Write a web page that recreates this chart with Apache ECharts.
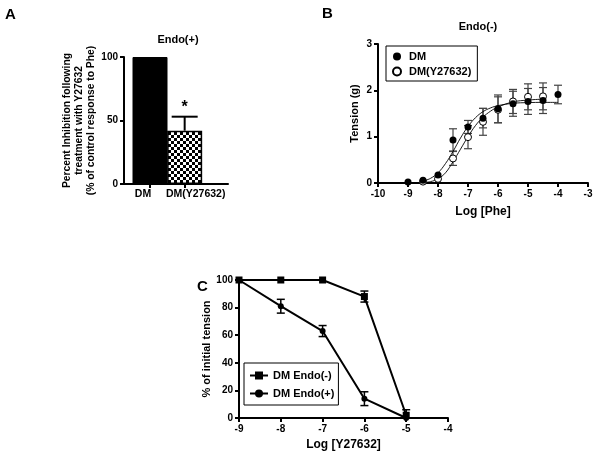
<!DOCTYPE html>
<html>
<head>
<meta charset="utf-8">
<script src="https://cdn.jsdelivr.net/npm/echarts@6/dist/echarts.min.js"></script>
<style>
html,body{margin:0;padding:0;background:#fff;}
#chart{width:600px;height:458px;}
</style>
</head>
<body>
<div id="chart"></div>
<script>
// ---------- Panel A data ----------
// half-width category slots: bars sit in slots 1 and 3
const A_categories = ['', 'DM', '', 'DM(Y27632)', '', ''];
const A_values = [null, 100, null, 42, null, null];
const A_errors = [0, 0, 0, 11, 0, 0];

// ---------- Panel B data ----------
const B_dmDoses = [-9, -8.5, -8, -7.5, -7, -6.5, -6, -5.5, -5, -4.5, -4];
const B_dm = [0.02, 0.06, 0.17, 0.93, 1.21, 1.40, 1.60, 1.71, 1.76, 1.78, 1.91];
const B_dmErr = [0, 0, 0, 0.24, 0.14, 0.21, 0.30, 0.27, 0.28, 0.28, 0.20];
const B_yDoses = [-8.5, -8, -7.5, -7, -6.5, -6, -5.5, -5, -4.5];
const B_y = [0.03, 0.09, 0.53, 0.99, 1.32, 1.58, 1.76, 1.86, 1.87];
const B_yErr = [0, 0, 0.15, 0.25, 0.29, 0.28, 0.26, 0.28, 0.29];
// fitted curves
const B_dmFitX = [-8.5, -8.25, -8, -7.75, -7.5, -7.25, -7, -6.75, -6.5, -6.25, -6, -5.5, -5, -4.5, -4];
const B_dmFitY = [0.04, 0.10, 0.22, 0.42, 0.68, 0.97, 1.22, 1.41, 1.54, 1.62, 1.67, 1.72, 1.735, 1.74, 1.74];
const B_yFitX = [-8.5, -8.25, -8, -7.75, -7.5, -7.25, -7, -6.75, -6.5, -6.25, -6, -5.5, -5, -4.5];
const B_yFitY = [0.01, 0.03, 0.09, 0.22, 0.46, 0.73, 1.0, 1.24, 1.42, 1.55, 1.64, 1.75, 1.79, 1.81];

// ---------- Panel C data ----------
const C_doses = [-9, -8, -7, -6, -5];
const C_endoMinus = [100, 100, 100, 88, 2];
const C_endoMinusErr = [0, 0, 0, 4, 4];
const C_endoPlus = [100, 81, 63, 14, 0];
const C_endoPlusErr = [0, 5, 4, 5, 0];

const FONT = '"Liberation Sans", Arial, sans-serif';

// checker pattern
const pat = document.createElement('canvas');
pat.width = 6; pat.height = 6;
const pctx = pat.getContext('2d');
pctx.fillStyle = '#fff'; pctx.fillRect(0, 0, 6, 6);
pctx.fillStyle = '#000'; pctx.fillRect(0, 0, 3, 3); pctx.fillRect(3, 3, 3, 3);

function zip(xs, ys) { return xs.map((x, i) => [x, ys[i]]); }
function zip3(xs, ys, es) { return xs.map((x, i) => [x, ys[i], es[i]]); }

function errRender(capHalf, color, lw) {
  return function (params, api) {
    const x = api.value(0), y = api.value(1), e = api.value(2);
    if (!e) return null;
    const t = api.coord([x, y + e]);
    const b = api.coord([x, y - e]);
    const st = { stroke: color, lineWidth: lw };
    return {
      type: 'group',
      children: [
        { type: 'line', shape: { x1: t[0], y1: t[1], x2: b[0], y2: b[1] }, style: st },
        { type: 'line', shape: { x1: t[0] - capHalf, y1: t[1], x2: t[0] + capHalf, y2: t[1] }, style: st },
        { type: 'line', shape: { x1: b[0] - capHalf, y1: b[1], x2: b[0] + capHalf, y2: b[1] }, style: st }
      ]
    };
  };
}

function axisCommon() {
  return {
    axisLine: { show: true, onZero: false, lineStyle: { color: '#000', width: 2 } },
    axisTick: { show: true, length: 4, lineStyle: { color: '#000', width: 2 } },
    axisLabel: { color: '#000', fontFamily: FONT, fontWeight: 'bold', fontSize: 10, margin: 6 },
    splitLine: { show: false },
    nameTextStyle: { color: '#000', fontFamily: FONT, fontWeight: 'bold', fontSize: 11 }
  };
}

const chart = echarts.init(document.getElementById('chart'), null, { renderer: 'canvas' });

const option = {
  animation: false,
  backgroundColor: '#fff',
  grid: [
    { left: 124, top: 57, width: 104, height: 127 },
    { left: 378, top: 44, width: 210, height: 139 },
    { left: 239, top: 280, width: 209, height: 138 }
  ],
  xAxis: [
    Object.assign(axisCommon(), {
      gridIndex: 0, type: 'category', data: A_categories, boundaryGap: true,
      axisTick: { show: true, alignWithLabel: true, length: 4, lineStyle: { color: '#000', width: 2 },
        interval: function (i) { return i === 1 || i === 3; } },
      axisLabel: {
        color: '#000', fontFamily: FONT, fontWeight: 'bold', fontSize: 10.5, margin: 5, interval: 0,
        formatter: function (v, i) {
          if (i === 1) return '{l|' + v + '}';
          if (i === 3) return '{r|' + v + '}';
          return '';
        },
        rich: {
          l: { fontFamily: FONT, fontWeight: 'bold', fontSize: 10.5, color: '#000', padding: [0, 14, 0, 0] },
          r: { fontFamily: FONT, fontWeight: 'bold', fontSize: 10.5, color: '#000', padding: [0, 0, 0, 22] }
        }
      }
    }),
    Object.assign(axisCommon(), {
      gridIndex: 1, type: 'value', min: -10, max: -3, interval: 1,
      name: 'Log [Phe]', nameLocation: 'middle', nameGap: 23,
      nameTextStyle: { color: '#000', fontFamily: FONT, fontWeight: 'bold', fontSize: 12 }
    }),
    Object.assign(axisCommon(), {
      gridIndex: 2, type: 'value', min: -9, max: -4, interval: 1,
      name: 'Log [Y27632]', nameLocation: 'middle', nameGap: 21,
      nameTextStyle: { color: '#000', fontFamily: FONT, fontWeight: 'bold', fontSize: 12 }
    })
  ],
  yAxis: [
    Object.assign(axisCommon(), {
      gridIndex: 0, type: 'value', min: 0, max: 100, interval: 50,
      name: 'Percent Inhibition following\ntreatment with Y27632\n(% of control response to Phe)',
      nameLocation: 'middle', nameRotate: 90, nameGap: 26,
      nameTextStyle: { color: '#000', fontFamily: FONT, fontWeight: 'bold', fontSize: 10.3, lineHeight: 12, align: 'center' }
    }),
    Object.assign(axisCommon(), {
      gridIndex: 1, type: 'value', min: 0, max: 3, interval: 1,
      name: 'Tension (g)', nameLocation: 'middle', nameRotate: 90, nameGap: 18
    }),
    Object.assign(axisCommon(), {
      gridIndex: 2, type: 'value', min: 0, max: 100, interval: 20,
      name: '% of initial tension', nameLocation: 'middle', nameRotate: 90, nameGap: 22
    })
  ],
  legend: [
    {
      data: ['DM', 'DM(Y27632)'], orient: 'vertical', left: 386, top: 46,
      padding: [5, 6, 4, 6], itemGap: 4, itemWidth: 14, itemHeight: 8,
      borderColor: '#000', borderWidth: 1, selectedMode: false,
      textStyle: { color: '#000', fontFamily: FONT, fontWeight: 'bold', fontSize: 11 }
    },
    {
      data: ['DM Endo(-)', 'DM Endo(+)'], orient: 'vertical', left: 244, top: 363,
      padding: [7, 4, 6, 5], itemGap: 7, itemWidth: 18, itemHeight: 10,
      borderColor: '#000', borderWidth: 1, selectedMode: false,
      textStyle: { color: '#000', fontFamily: FONT, fontWeight: 'bold', fontSize: 11 }
    }
  ],
  graphic: [
    { type: 'text', left: 5, top: 7, style: { text: 'A', font: 'bold 15px ' + FONT, fill: '#000' } },
    { type: 'text', left: 322, top: 6, style: { text: 'B', font: 'bold 15px ' + FONT, fill: '#000' } },
    { type: 'text', left: 197, top: 279, style: { text: 'C', font: 'bold 15px ' + FONT, fill: '#000' } },
    { type: 'text', x: 178, y: 40, style: { text: 'Endo(+)', font: 'bold 11px ' + FONT, fill: '#000', align: 'center', verticalAlign: 'middle' } },
    { type: 'text', x: 478, y: 27, style: { text: 'Endo(-)', font: 'bold 11px ' + FONT, fill: '#000', align: 'center', verticalAlign: 'middle' } }
  ],
  series: [
    // Panel A bars
    {
      type: 'bar', xAxisIndex: 0, yAxisIndex: 0, barWidth: 35,
      data: A_values.map(function (v, i) {
        if (v === null) return null;
        return i === 1
          ? { value: v, itemStyle: { color: '#000', borderColor: '#000', borderWidth: 1 } }
          : { value: v, itemStyle: { color: { image: pat, repeat: 'repeat' }, borderColor: '#000', borderWidth: 1.5 } };
      })
    },
    // Panel A error bar (upper only) + significance star
    {
      type: 'custom', xAxisIndex: 0, yAxisIndex: 0, z: 5,
      data: A_values.map((v, i) => [i, v === null ? 0 : v, A_errors[i]]),
      renderItem: function (params, api) {
        const i = api.value(0), v = api.value(1), e = api.value(2);
        if (!e) return null;
        const b = api.coord([i, v]);
        const t = api.coord([i, v + e]);
        const st = { stroke: '#000', lineWidth: 2 };
        return {
          type: 'group', children: [
            { type: 'line', shape: { x1: t[0], y1: t[1], x2: b[0], y2: b[1] }, style: st },
            { type: 'line', shape: { x1: t[0] - 13, y1: t[1], x2: t[0] + 13, y2: t[1] }, style: st },
            { type: 'text', style: { text: '*', x: t[0], y: t[1] - 1, font: 'bold 16px ' + FONT, fill: '#000', align: 'center', verticalAlign: 'bottom' } }
          ]
        };
      }
    },
    // Panel B error bars
    {
      type: 'custom', xAxisIndex: 1, yAxisIndex: 1, z: 1,
      data: zip3(B_dmDoses, B_dm, B_dmErr), renderItem: errRender(4, '#444', 1.2)
    },
    {
      type: 'custom', xAxisIndex: 1, yAxisIndex: 1, z: 1,
      data: zip3(B_yDoses, B_y, B_yErr), renderItem: errRender(4, '#444', 1.2)
    },
    // Panel B fitted curves
    {
      type: 'line', xAxisIndex: 1, yAxisIndex: 1, smooth: 0.4, showSymbol: false, symbol: 'none',
      lineStyle: { color: '#000', width: 0.9 }, data: zip(B_dmFitX, B_dmFitY), z: 2, silent: true
    },
    {
      type: 'line', xAxisIndex: 1, yAxisIndex: 1, smooth: 0.4, showSymbol: false, symbol: 'none',
      lineStyle: { color: '#000', width: 0.9 }, data: zip(B_yFitX, B_yFitY), z: 2, silent: true
    },
    // Panel B points
    {
      name: 'DM(Y27632)', type: 'scatter', xAxisIndex: 1, yAxisIndex: 1, symbol: 'circle', symbolSize: 7, z: 3,
      itemStyle: { color: '#fff', borderColor: '#000', borderWidth: 1, opacity: 1 },
      data: zip(B_yDoses, B_y)
    },
    {
      name: 'DM', type: 'scatter', xAxisIndex: 1, yAxisIndex: 1, symbol: 'circle', symbolSize: 7, z: 4,
      itemStyle: { color: '#000', opacity: 1 },
      data: zip(B_dmDoses, B_dm)
    },
    // Panel C error bars
    {
      type: 'custom', xAxisIndex: 2, yAxisIndex: 2, z: 3, clip: true,
      data: zip3(C_doses, C_endoMinus, C_endoMinusErr), renderItem: errRender(4, '#000', 1.5)
    },
    {
      type: 'custom', xAxisIndex: 2, yAxisIndex: 2, z: 3, clip: true,
      data: zip3(C_doses, C_endoPlus, C_endoPlusErr), renderItem: errRender(4, '#000', 1.5)
    },
    // Panel C lines
    {
      name: 'DM Endo(-)', type: 'line', xAxisIndex: 2, yAxisIndex: 2, symbol: 'rect', symbolSize: 7,
      lineStyle: { color: '#000', width: 2 }, itemStyle: { color: '#000' },
      data: zip(C_doses, C_endoMinus), z: 4
    },
    {
      name: 'DM Endo(+)', type: 'line', xAxisIndex: 2, yAxisIndex: 2, symbol: 'circle', symbolSize: 6,
      lineStyle: { color: '#000', width: 2 }, itemStyle: { color: '#000' },
      data: zip(C_doses, C_endoPlus), z: 4
    }
  ]
};

chart.setOption(option);
</script>
</body>
</html>
